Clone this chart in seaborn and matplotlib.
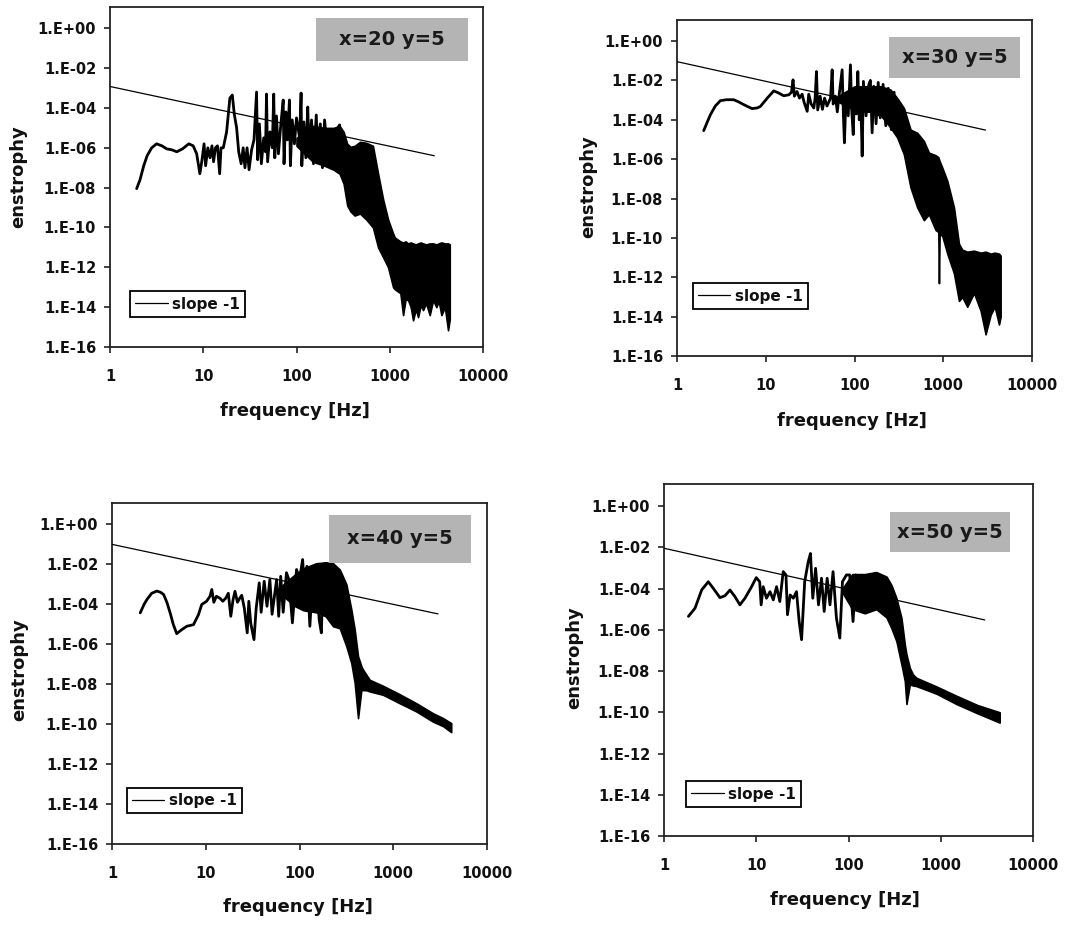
import numpy as np
import pandas as pd
import matplotlib
matplotlib.use("Agg")
import matplotlib.pyplot as plt
from matplotlib.patches import Rectangle
from matplotlib.ticker import FixedLocator, FixedFormatter, NullLocator
import seaborn as sns

# ---------------- data (enstrophy given as log10 values) -------------
panel_titles = ["x=20 y=5", "x=30 y=5", "x=40 y=5", "x=50 y=5"]
legend_label = "slope -1"
x_label = "frequency [Hz]"
y_label = "enstrophy"
x_tick_values = [1, 10, 100, 1000, 10000]
x_tick_labels = ["1", "10", "100", "1000", "10000"]
y_tick_exponents = [0, -2, -4, -6, -8, -10, -12, -14, -16]
y_tick_labels = ["1.E+00", "1.E-02", "1.E-04", "1.E-06", "1.E-08",
                 "1.E-10", "1.E-12", "1.E-14", "1.E-16"]

# slope -1 reference lines
slope_f = [1, 3000]
p1_slope_e = [1.2e-3, 4.0e-7]
p2_slope_e = [9.0e-2, 3.0e-5]
p3_slope_e = [1.0e-1, 3.3e-5]
p4_slope_e = [9.0e-3, 3.0e-6]

# panel 1 (x=20 y=5): resolved part of spectrum
p1_line_f = [1.93, 2.1, 2.3, 2.5, 2.8, 3.16, 3.6, 4.05, 4.6, 5.2, 6.0, 7.0, 7.8, 8.5, 9.2, 9.7,
             10.2, 10.6, 11.2, 11.8, 12.4, 12.9, 13.5, 14.2, 15.0, 15.5, 16.4, 17.8, 19.3, 20.5,
             21.5, 22.8, 24.0, 25.5, 26.8, 28.0, 29.5, 31.0, 33.0, 35.0, 37.3, 38.3, 40.0, 42.0,
             44.5, 46.5, 47.7, 49.0, 52.0, 55.0, 57.0, 58.5, 61.0, 64.0, 68.0, 72.0, 73.5, 77.0,
             80.0, 84.0, 86.0, 90.0, 95.0, 100.0, 108.0, 112.0, 114.0, 120.0, 126.0, 132.0,
             136.0, 145.0, 152.0, 163.0, 168.0, 180.0, 190.0, 200.0, 215.0, 230.0, 245.0, 260.0,
             290.0, 300.0]
p1_line_log = [-8.05, -7.6, -6.9, -6.4, -6.0, -5.8, -5.9, -6.05, -6.1, -6.2, -6.05, -5.8, -5.9,
               -6.3, -7.3, -6.6, -5.8, -6.9, -6.0, -6.5, -5.9, -6.7, -6.0, -5.9, -7.3, -6.0,
               -6.0, -5.2, -3.5, -3.35, -4.3, -5.0, -6.2, -6.8, -6.0, -7.0, -6.0, -7.1, -6.1,
               -5.6, -3.2, -6.6, -4.8, -6.8, -5.5, -6.2, -3.3, -6.7, -5.2, -6.0, -3.3, -6.5,
               -4.4, -6.3, -4.8, -3.6, -6.8, -4.2, -5.6, -3.6, -6.9, -4.6, -5.8, -4.5, -5.5,
               -3.25, -6.9, -4.7, -6.5, -3.95, -6.0, -4.6, -6.8, -4.35, -6.2, -4.8, -7.0, -4.6,
               -6.2, -5.4, -6.8, -5.2, -4.85, -6.6]
# panel 1: dense (unresolved) part of spectrum, upper / lower envelope
p1_band_f = [100, 150, 200, 250, 290, 320, 350, 380, 420, 480, 560, 660, 750, 850, 960, 1086,
             1132, 1300, 1390, 1480, 1572, 1680, 1778, 1900, 2012, 2150, 2276, 2450, 2683, 2913,
             3162, 3350, 3578, 3900, 4217, 4400]
p1_band_hi = [-5.5, -4.9, -5.0, -5.0, -4.9, -5.2, -5.8, -5.95, -5.9, -5.7, -5.75, -5.9, -7.3,
              -8.6, -9.6, -10.3, -10.5, -10.7, -10.75, -10.7, -10.8, -10.75, -10.8, -10.85,
              -10.8, -10.75, -10.8, -10.85, -10.8, -10.8, -10.85, -10.8, -10.75, -10.8,
              -10.8, -10.85]
p1_band_lo = [-5.9, -6.7, -6.9, -7.1, -7.3, -7.8, -8.9, -9.2, -9.4, -9.3, -9.6, -10.0, -11.0,
              -11.5, -12.0, -13.0, -13.1, -13.3, -14.4, -13.6, -13.65, -14.0, -14.66, -14.1,
              -14.5, -13.9, -14.15, -13.8, -14.4, -13.65, -14.0, -13.7, -14.4, -14.0, -15.16,
              -14.6]

# panel 2 (x=30 y=5)
p2_line_f = [2.0, 2.2, 2.38, 2.7, 3.08, 3.6, 4.36, 5.0, 5.65, 7.0, 8.0, 8.7, 10.4, 12.3, 14.0,
             15.9, 18.2, 19.5, 20.3, 21.0, 22.5, 24.0, 25.7, 27.0, 29.3, 30.5, 32.5, 34.8, 36.0,
             37.3, 38.5, 41.0, 43.5, 46.0, 49.0, 53.7, 56.0, 57.5, 61.0, 64.0, 66.5, 72.6, 75.0,
             77.0, 80.0, 85.0, 90.0, 93.0, 96.7, 100.0, 105.0, 109.0, 113.0, 118.0, 122.0,
             126.0, 135.0, 145.0, 151.0, 158.0, 165.0, 175.0, 185.0, 195.0, 210.0, 225.0,
             240.0, 260.0, 280.0]
p2_line_log = [-4.55, -4.1, -3.74, -3.3, -3.03, -2.98, -2.98, -3.1, -3.23, -3.43, -3.4, -3.32,
               -2.9, -2.53, -2.64, -2.78, -2.73, -2.6, -1.97, -2.8, -2.56, -2.9, -2.7, -3.1,
               -3.57, -2.7, -3.2, -3.4, -2.9, -1.55, -3.5, -2.8, -3.47, -2.9, -3.3, -2.9, -1.46,
               -3.2, -2.8, -3.6, -2.9, -1.46, -3.8, -5.17, -2.9, -3.8, -1.21, -3.5, -4.75, -2.7,
               -3.7, -1.55, -4.0, -3.2, -5.84, -2.05, -3.8, -2.2, -2.0, -4.66, -2.3, -4.2, -2.1,
               -3.9, -2.2, -4.3, -2.4, -4.5, -2.6]
p2_band_f = [60, 100, 150, 200, 255, 303, 360, 428, 509, 605, 689, 820, 880, 894, 910, 975,
             1110, 1320, 1503, 1637, 1863, 2218, 2638, 3000, 3419, 3800, 4246, 4430]
p2_band_hi = [-2.9, -2.3, -2.3, -2.3, -2.47, -2.9, -3.4, -4.5, -4.66, -5.08, -5.67, -5.8, -5.9,
              -6.0, -6.1, -6.43, -7.1, -8.45, -10.3, -10.6, -10.7, -10.65, -10.75, -10.7,
              -10.8, -10.75, -10.8, -10.9]
p2_band_lo = [-3.0, -3.5, -3.6, -3.8, -4.4, -4.9, -5.75, -7.44, -8.45, -9.1, -8.8, -9.6, -9.7,
              -12.3, -9.8, -9.9, -10.8, -11.8, -13.2, -13.0, -13.5, -12.8, -13.7, -14.9,
              -13.9, -13.5, -14.4, -14.0]

# panel 3 (x=40 y=5)
p3_line_f = [2.0, 2.2, 2.36, 2.65, 3.0, 3.3, 3.55, 3.85, 4.17, 4.5, 4.9, 5.55, 6.28, 7.4, 8.36,
             9.06, 10.2, 11.1, 11.6, 12.2, 13.0, 14.2, 15.2, 16.3, 17.4, 18.5, 19.5, 20.5, 21.8,
             23.0, 24.2, 25.8, 27.7, 28.8, 30.2, 32.7, 34.5, 37.2, 39.0, 42.0, 45.0, 48.3, 51.0,
             57.0, 60.0, 63.0, 67.0, 72.6, 77.0, 84.0, 93.0, 100.0, 108.0, 114.0, 120.0, 129.0,
             140.0, 151.0, 162.0, 171.0, 180.0, 195.0]
p3_line_log = [-4.43, -4.0, -3.76, -3.45, -3.34, -3.4, -3.51, -3.9, -4.43, -5.0, -5.47, -5.27,
               -5.1, -5.02, -4.52, -4.01, -3.85, -3.6, -3.26, -3.9, -3.6, -3.7, -3.85, -3.7,
               -3.45, -4.6, -3.8, -3.35, -3.9, -3.7, -3.55, -4.2, -5.43, -3.85, -4.95, -5.77,
               -4.2, -2.93, -4.4, -2.85, -4.1, -2.76, -4.5, -2.76, -4.6, -2.6, -4.4, -2.42,
               -2.76, -4.93, -2.26, -2.76, -1.76, -3.6, -2.1, -5.1, -2.26, -2.26, -4.76, -5.43,
               -2.0, -1.95]
p3_band_f = [60, 90, 110, 150, 190, 228, 269, 316, 357, 388, 421, 457, 476, 516, 560, 777, 1167,
             1757, 2643, 3400, 4150]
p3_band_hi = [-3.2, -2.5, -2.2, -1.95, -1.9, -1.95, -2.26, -3.0, -4.26, -5.27, -6.6, -7.1,
              -7.27, -7.52, -7.78, -8.08, -8.5, -8.95, -9.45, -9.7, -9.95]
p3_band_lo = [-3.4, -4.1, -4.3, -4.4, -4.6, -5.1, -5.2, -6.1, -6.94, -7.94, -9.7, -8.28, -8.3,
              -8.3, -8.36, -8.53, -8.95, -9.36, -9.87, -10.1, -10.4]

# panel 4 (x=50 y=5)
p4_line_f = [1.84, 2.17, 2.56, 3.02, 3.42, 4.04, 4.58, 5.19, 5.87, 6.65, 7.54, 8.9, 10.0, 10.9,
             11.3, 11.9, 12.9, 14.1, 15.3, 16.6, 18.0, 19.6, 21.0, 21.8, 23.3, 25.2, 27.3, 29.2,
             31.0, 33.5, 36.6, 38.7, 41.0, 44.0, 47.3, 51.0, 54.5, 58.7, 63.0, 68.0, 74.0, 80.5,
             86.0, 95.0, 103.0, 112.0, 120.0]
p4_line_log = [-5.35, -4.95, -4.07, -3.67, -3.99, -4.44, -4.35, -4.07, -4.39, -4.79, -4.47,
               -3.91, -3.47, -3.67, -4.79, -3.91, -4.47, -4.15, -4.55, -3.91, -4.63, -3.18,
               -3.34, -5.27, -4.31, -4.47, -4.15, -5.6, -6.48, -3.67, -2.7, -2.3, -4.47, -3.02,
               -4.79, -3.5, -5.11, -3.5, -4.79, -3.18, -5.43, -6.4, -3.67, -3.34, -3.34, -5.6,
               -3.34]
p4_band_f = [86, 110, 150, 200, 258, 292, 331, 375, 408, 425, 462, 501, 545, 900, 1479, 2500, 4350]
p4_band_hi = [-4.0, -3.3, -3.3, -3.2, -3.42, -3.83, -4.47, -5.43, -6.72, -7.2, -7.85, -8.17,
              -8.33, -8.75, -9.2, -9.65, -10.0]
p4_band_lo = [-4.2, -5.0, -5.2, -5.0, -5.4, -5.92, -6.56, -7.68, -8.49, -9.6, -8.65, -8.7, -8.73,
              -9.1, -9.6, -10.05, -10.5]

panel_data = [
    (p1_line_f, p1_line_log, p1_band_f, p1_band_hi, p1_band_lo, p1_slope_e),
    (p2_line_f, p2_line_log, p2_band_f, p2_band_hi, p2_band_lo, p2_slope_e),
    (p3_line_f, p3_line_log, p3_band_f, p3_band_hi, p3_band_lo, p3_slope_e),
    (p4_line_f, p4_line_log, p4_band_f, p4_band_hi, p4_band_lo, p4_slope_e),
]

# ---------------- layout (pixel-derived positions, figure fractions) ----------------
W, H = 1090, 925
axes_px = [(110, 7, 483, 347), (677, 20, 1032, 356), (112, 503, 487, 844), (664, 484, 1033, 836)]
title_box = [(0.552, 0.841, 0.408, 0.127), (0.597, 0.827, 0.369, 0.122),
             (0.579, 0.824, 0.378, 0.141), (0.612, 0.807, 0.326, 0.113)]
legend_anchor = [(0.054, 0.088), (0.045, 0.14), (0.04, 0.09), (0.06, 0.082)]
xlabel_pos = [(0.496, -0.162), (0.493, -0.167), (0.496, -0.158), (0.49, -0.156)]
ylabel_pos = [(-0.223, 0.5), (-0.225, 0.503), (-0.224, 0.51), (-0.22, 0.506)]

sns.set_style("ticks")
plt.rcParams["font.family"] = ["DejaVu Sans"]

fig = plt.figure(figsize=(W / 100, H / 100), dpi=100)
fig.patch.set_facecolor("white")

for i, (lf, llog, bf, bhi, blo, se) in enumerate(panel_data):
    l, t, r, b = axes_px[i]
    ax = fig.add_axes([l / W, 1 - b / H, (r - l) / W, (b - t) / H])
    ax.set_xscale("log")
    ax.set_yscale("log")

    # dense part of spectrum
    ax.fill_between(bf, 10.0 ** np.array(bhi), 10.0 ** np.array(blo),
                    color="black", lw=1.2, edgecolor="black", zorder=2)
    # resolved spectrum
    df_line = pd.DataFrame({"f": lf, "e": 10.0 ** np.array(llog)})
    sns.lineplot(data=df_line, x="f", y="e", ax=ax, color="black", lw=2.0,
                 sort=False, estimator=None, zorder=3)
    # slope -1 line
    df_slope = pd.DataFrame({"f": slope_f, "e": se})
    sns.lineplot(data=df_slope, x="f", y="e", ax=ax, color="black", lw=0.9,
                 sort=False, estimator=None, zorder=4, label=legend_label)

    ax.set_xlim(1, 10000)
    ax.set_ylim(1e-16, 10 ** 1.07)
    ax.xaxis.set_major_locator(FixedLocator(x_tick_values))
    ax.xaxis.set_major_formatter(FixedFormatter(x_tick_labels))
    ax.xaxis.set_minor_locator(NullLocator())
    ax.yaxis.set_major_locator(FixedLocator([10.0 ** e for e in y_tick_exponents]))
    ax.yaxis.set_major_formatter(FixedFormatter(y_tick_labels))
    ax.yaxis.set_minor_locator(NullLocator())
    ax.tick_params(axis="both", direction="out", length=4, width=1.2, color="#222222",
                   labelsize=10.5, labelcolor="#111111")
    ax.tick_params(axis="x", pad=12)
    ax.tick_params(axis="y", pad=6)
    for lab in ax.get_xticklabels() + ax.get_yticklabels():
        lab.set_fontweight("bold")
    for sp in ax.spines.values():
        sp.set_visible(True)
        sp.set_color("#222222")
        sp.set_linewidth(1.3)

    ax.set_xlabel(x_label, fontsize=13, fontweight="bold", color="#111111")
    ax.xaxis.set_label_coords(*xlabel_pos[i])
    ax.set_ylabel(y_label, fontsize=13, fontweight="bold", color="#111111")
    ax.yaxis.set_label_coords(*ylabel_pos[i])

    bx, by, bw, bh = title_box[i]
    ax.add_patch(Rectangle((bx, by), bw, bh, transform=ax.transAxes,
                           facecolor="#b4b4b4", edgecolor="none", zorder=5))
    ax.text(bx + bw / 2, by + bh / 2, panel_titles[i], transform=ax.transAxes,
            ha="center", va="center", fontsize=14, fontweight="bold",
            color="#1a1a1a", zorder=6)

    slope_line = [ln for ln in ax.get_lines() if ln.get_label() == legend_label]
    leg = ax.legend(handles=slope_line, labels=[legend_label], loc="lower left",
                    bbox_to_anchor=legend_anchor[i], frameon=True, fancybox=False,
                    handlelength=2.1, handletextpad=0.3, borderpad=0.35,
                    prop={"size": 11, "weight": "bold"}, borderaxespad=0)
    leg.get_frame().set_edgecolor("black")
    leg.get_frame().set_linewidth(1.3)
    leg.get_frame().set_alpha(1)
    for lt in leg.get_texts():
        lt.set_color("#111111")

fig.savefig("out.png", dpi=100, facecolor="white")
